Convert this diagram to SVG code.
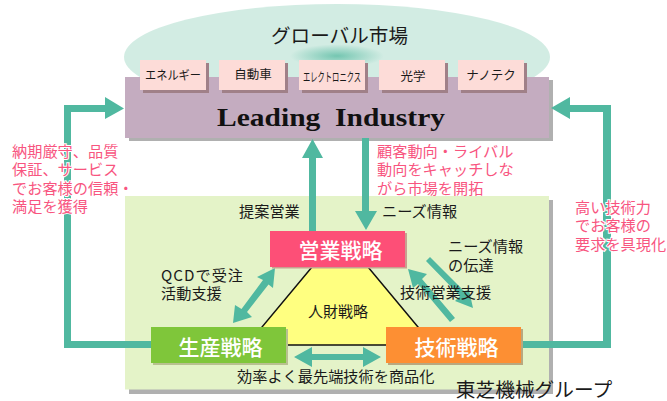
<svg xmlns="http://www.w3.org/2000/svg" width="667" height="401" viewBox="0 0 667 401">
<style>
text{font-family:"Noto Sans CJK JP","Liberation Sans",sans-serif;fill:#1a1a1a}
.p{font-size:15.2px;fill:#f8557f}
.l{font-size:15.2px}
.s{font-size:12.5px;text-anchor:middle}
.b{font-size:21px;font-weight:500;fill:#fff;text-anchor:middle}
.c{fill:#50b8a0}
.sh{fill:#b0b0b0}
.ts{fill:#a08088}
.m{fill:#fddcd8}
.h{stroke:#fff;stroke-width:2;paint-order:stroke}
</style>
<defs>
<radialGradient id="g" cx="0.5" cy="0.49" r="0.5">
<stop offset="0" stop-color="#74c6b1"/><stop offset="0.22" stop-color="#d2ece3"/><stop offset="1" stop-color="#d2ece3"/>
</radialGradient>
</defs>
<rect width="667" height="401" fill="#fff"/>
<g id="market">
<ellipse cx="337" cy="57" rx="213" ry="53" fill="url(#g)"/>
<text x="339.500" y="43" font-size="19.600" text-anchor="middle">グローバル市場</text>
</g>
<g id="group">
<rect class="sh" x="129" y="200" width="424" height="194"/>
<rect x="125" y="196" width="424" height="193.500" fill="#e4f3c8"/>
<text x="534" y="397" font-size="19.700" text-anchor="middle">東芝機械グループ</text>
</g>
<g id="industry">
<rect class="sh" x="129" y="80" width="424" height="61"/>
<rect x="125" y="77" width="424" height="61" fill="#c4acc0"/>
<text x="217" y="126" font-size="25" font-weight="bold" textLength="228" lengthAdjust="spacingAndGlyphs" style="font-family:'Liberation Serif',serif;fill:#111">Leading&#160;&#160;Industry</text>
</g>
<g id="n1"><rect class="ts" x="143" y="63" width="66" height="30"/><rect class="m" x="140" y="60" width="66" height="30"/><text class="s" x="173" y="80" textLength="56" lengthAdjust="spacingAndGlyphs">エネルギー</text></g>
<g id="n2"><rect class="ts" x="222" y="63" width="66" height="30"/><rect class="m" x="219" y="60" width="66" height="30"/><text class="s" x="253" y="79">自動車</text></g>
<g id="n3"><rect class="ts" x="302" y="63" width="66" height="30"/><rect class="m" x="299" y="60" width="66" height="30"/><text class="s" x="332" y="81.500" textLength="58" lengthAdjust="spacingAndGlyphs">エレクトロニクス</text></g>
<g id="n4"><rect class="ts" x="382" y="63" width="66" height="30"/><rect class="m" x="379" y="60" width="66" height="30"/><text class="s" x="413" y="81">光学</text></g>
<g id="n5"><rect class="ts" x="461" y="63" width="66" height="30"/><rect class="m" x="458" y="60" width="66" height="30"/><text class="s" x="491" y="80">ナノテク</text></g>
<g id="people">
<polygon points="312,267 368,267 433,345 247,345" fill="#ffff80" stroke="#111" stroke-width="1.5"/>
<text x="338" y="317" font-size="15" text-anchor="middle">人財戦略</text>
</g>
<g id="connectors">
<polygon class="c" points="309,231 309,158 302,158 312.500,139 323,158 316,158 316,231"/>
<polygon class="c" points="362,138 362,211 355,211 366,230 377,211 369,211 369,138"/>
<polygon class="c" points="151,341 71,341 71,112 105,112 105,119 124,108.500 105,97 105,105 64,105 64,348 151,348"/>
<polygon class="c" points="523,341 603,341 603,112 570,112 570,119 551,108 570,97 570,105 611,105 611,348 523,348"/>
<polygon class="c" points="275,268 273,288 268.500,284.500 247,312 252,317 233,323 235,305 241.500,309 263,280 257,277"/>
<polygon class="c" points="294,357 312,347 312,354 363,354 363,347 381,357 363,367 363,360 312,360 312,367"/>
<polygon class="c" points="430,257 464,291 469,290 473,308 455,301 460,296 426,261"/>
<polygon class="c" points="408,269 427,274 422,279 455,318 450,322 418,284 413,288"/>
</g>
<g id="sales"><rect x="272" y="233" width="135" height="35.500" fill="#c8a090"/><rect x="270" y="231" width="135" height="36" fill="#fd4f77"/><text class="b" x="340.500" y="258">営業戦略</text></g>
<g id="prod"><rect x="153" y="329" width="135" height="36" fill="#b8c090"/><rect x="151" y="327" width="135" height="36" fill="#7fc63a"/><text class="b" x="220.500" y="355">生産戦略</text></g>
<g id="tech"><rect x="388" y="329" width="135" height="36" fill="#b8a880"/><rect x="386" y="327" width="135" height="36" fill="#fd8f33"/><text class="b" x="456.500" y="355">技術戦略</text></g>
<g id="labels">
<text class="l" x="239" y="217">提案営業</text>
<text class="l" x="382" y="217">ニーズ情報</text>
<text class="l" x="448" y="252">ニーズ情報</text>
<text class="l" x="448" y="271">の伝達</text>
<text class="l" x="400" y="298">技術営業支援</text>
<text class="l" x="161" y="281" textLength="82">QCDで受注</text>
<text class="l" x="161" y="299">活動支援</text>
<text class="l" x="237" y="382">効率よく最先端技術を商品化</text>
<text class="p h" x="12" y="157">納期厳守、品質</text>
<text class="p h" x="12" y="175">保証、サービス</text>
<text class="p h" x="12" y="194">でお客様の信頼・</text>
<text class="p h" x="12" y="212">満足を獲得</text>
<text class="p h" x="575" y="213">高い技術力</text>
<text class="p h" x="575" y="231">でお客様の</text>
<text class="p h" x="575" y="250">要求を具現化</text>
<text class="p" x="377" y="157">顧客動向・ライバル</text>
<text class="p" x="377" y="175">動向をキャッチしな</text>
<text class="p" x="377" y="194">がら市場を開拓</text>
</g>
</svg>
